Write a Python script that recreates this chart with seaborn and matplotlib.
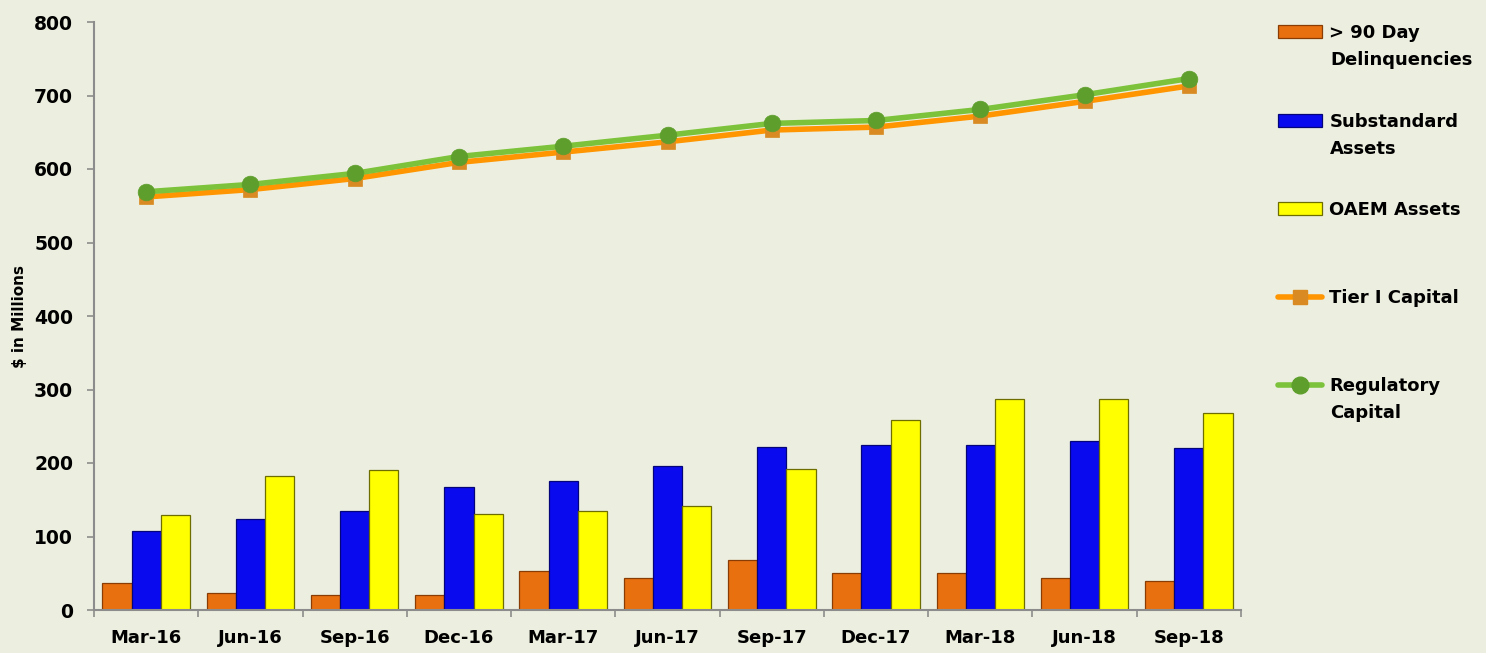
import matplotlib
matplotlib.use("Agg")
import matplotlib.pyplot as plt
from matplotlib.patches import Patch
from matplotlib.lines import Line2D
from matplotlib.ticker import FixedLocator, NullFormatter
import seaborn as sns
import pandas as pd

quarters = ["Mar-16", "Jun-16", "Sep-16", "Dec-16", "Mar-17", "Jun-17",
            "Sep-17", "Dec-17", "Mar-18", "Jun-18", "Sep-18"]
delinquencies = [37, 23, 20, 21, 53, 44, 68, 50, 50, 44, 40]
substandard = [107, 124, 135, 168, 175, 196, 222, 225, 225, 230, 220]
oaem = [129, 182, 190, 130, 135, 141, 192, 259, 287, 287, 268]
tier1 = [562, 572, 587, 609, 623, 637, 653, 657, 672, 692, 713]
regulatory = [569, 579, 594, 617, 631, 646, 662, 666, 681, 701, 723]

bar_names = ["> 90 Day Delinquencies", "Substandard Assets", "OAEM Assets"]
line_names = ["Tier I Capital", "Regulatory Capital"]
# legend text split over two lines where the label wraps
legend_lines = [("> 90 Day", "Delinquencies"), ("Substandard", "Assets"),
                ("OAEM Assets", None), ("Tier I Capital", None),
                ("Regulatory", "Capital")]

bar_colors = ["#E8700F", "#0A0AEE", "#FFFF00"]
bar_edges = ["#8A3C05", "#05057A", "#6E6E00"]
line_colors = ["#FF9500", "#7CC23A"]
marker_colors = ["#D98A22", "#5E9E2C"]
bg = "#ECEFDF"
ink = "#000000"

bars = pd.DataFrame({
    "quarter": quarters * 3,
    "value": delinquencies + substandard + oaem,
    "series": sum([[n] * len(quarters) for n in bar_names], []),
})
lines = pd.DataFrame({
    "quarter": quarters * 2,
    "value": tier1 + regulatory,
    "series": sum([[n] * len(quarters) for n in line_names], []),
})

sns.set_theme(style="white")
plt.rcParams["font.family"] = ["DejaVu Sans"]
plt.rcParams["font.weight"] = "bold"
plt.rcParams["text.color"] = ink
plt.rcParams["axes.labelcolor"] = ink
plt.rcParams["xtick.labelcolor"] = ink
plt.rcParams["ytick.labelcolor"] = ink

W, H = 1486, 653
fig = plt.figure(figsize=(W / 100, H / 100), dpi=100, facecolor=bg)
ax = fig.add_axes([94 / W, 43 / H, (1241 - 94) / W, (610 - 22) / H])
ax.set_facecolor(bg)

sns.barplot(data=bars, x="quarter", y="value", hue="series",
            hue_order=bar_names, palette=bar_colors, width=0.84,
            gap=0, ax=ax, legend=False, saturation=1)
for i, container in enumerate(ax.containers):
    for patch in container:
        patch.set_edgecolor(bar_edges[i])
        patch.set_linewidth(0.9)

for name, col, mcol, mk, ms in zip(line_names, line_colors, marker_colors,
                                   ["s", "o"], [10, 12]):
    sub = lines[lines["series"] == name]
    sns.lineplot(data=sub, x="quarter", y="value", color=col, linewidth=4,
                 marker=mk, markersize=ms, markerfacecolor=mcol,
                 markeredgecolor=mcol, markeredgewidth=0.5, ax=ax,
                 legend=False, sort=False, zorder=3)

ax.set_ylim(0, 800)
ax.set_xlim(-0.5, len(quarters) - 0.5)
ax.set_yticks(range(0, 801, 100))
ax.set_xlabel("")
ax.set_ylabel("$ in Millions", fontsize=11, fontweight="bold", color=ink)
ax.yaxis.set_label_coords((27 - 94) / (1241 - 94), 0.5)

for side in ["top", "right"]:
    ax.spines[side].set_visible(False)
for side in ["left", "bottom"]:
    ax.spines[side].set_color("#8C8C8C")
    ax.spines[side].set_linewidth(1.5)

ax.tick_params(axis="y", labelsize=13.5, length=5, width=1.2,
               color="#8C8C8C", direction="out", left=True, pad=10,
               labelcolor=ink)
ax.tick_params(axis="x", which="major", labelsize=13, length=0, pad=14,
               labelcolor=ink)
ax.xaxis.set_minor_locator(FixedLocator([i - 0.5 for i in range(len(quarters) + 1)]))
ax.xaxis.set_minor_formatter(NullFormatter())
ax.tick_params(axis="x", which="minor", length=5, width=1.2,
               color="#8C8C8C", direction="out", bottom=True)
for lbl in ax.get_xticklabels() + ax.get_yticklabels():
    lbl.set_fontweight("bold")

handles = [Patch(facecolor=c, edgecolor=e, linewidth=0.9)
           for c, e in zip(bar_colors, bar_edges)]
handles += [Line2D([0], [0], color=line_colors[0], linewidth=4, marker="s",
                   markersize=10, markerfacecolor=marker_colors[0],
                   markeredgecolor=marker_colors[0]),
            Line2D([0], [0], color=line_colors[1], linewidth=4, marker="o",
                   markersize=12, markerfacecolor=marker_colors[1],
                   markeredgecolor=marker_colors[1])]

# one legend entry per row, handle level with the first text line
row_y = [33, 122, 210, 298, 386]
second_gap = 27
for h, (first, second), y in zip(handles, legend_lines, row_y):
    fig.legend([h], [first], loc="center left",
               bbox_to_anchor=(1278 / W, 1 - y / H), frameon=False,
               prop={"size": 13, "weight": "bold"}, handlelength=2.45,
               handleheight=0.75, handletextpad=0.4, borderpad=0,
               borderaxespad=0, labelcolor=ink)
    if second:
        fig.text(1330 / W, 1 - (y + second_gap) / H, second, fontsize=13,
                 fontweight="bold", va="center", ha="left", color=ink)

fig.savefig("out.png", dpi=100, facecolor=bg)
